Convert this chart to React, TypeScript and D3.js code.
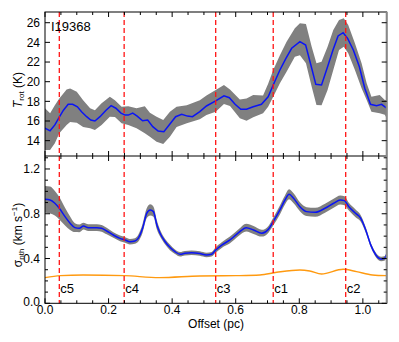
import React from 'react';
import * as d3 from 'd3';

// top panel: rotational temperature along the filament
const tOffset = [0, 0.016, 0.031, 0.045, 0.058, 0.073, 0.087, 0.102, 0.115, 0.131, 0.144, 0.157, 0.173, 0.192, 0.208, 0.223, 0.239, 0.252, 0.262, 0.276, 0.29, 0.307, 0.323, 0.339, 0.356, 0.374, 0.393, 0.411, 0.43, 0.448, 0.464, 0.487, 0.508, 0.537, 0.563, 0.58, 0.598, 0.616, 0.634, 0.655, 0.681, 0.702, 0.718, 0.739, 0.758, 0.776, 0.802, 0.82, 0.835, 0.852, 0.87, 0.889, 0.906, 0.922, 0.938, 0.952, 0.97, 0.989, 1.006, 1.024, 1.043, 1.059, 1.075];
const tRot = [15.26, 15.0, 15.6, 16.4, 17.1, 17.7, 17.7, 17.45, 16.95, 16.44, 16.1, 16.0, 16.44, 17.1, 17.56, 17.3, 16.8, 16.6, 16.6, 16.8, 16.5, 16.03, 16.1, 15.42, 14.98, 14.9, 15.7, 16.44, 16.68, 16.5, 16.44, 16.95, 17.53, 18.04, 18.57, 18.37, 17.7, 17.19, 17.19, 17.45, 17.7, 18.47, 19.66, 21.19, 22.38, 23.4, 24.07, 23.73, 21.87, 19.73, 19.66, 21.52, 23.22, 24.65, 24.98, 24.41, 23.22, 21.52, 19.33, 17.7, 17.56, 17.7, 17.3];

const tBandOffset = [0, 0.016, 0.031, 0.045, 0.068, 0.079, 0.1, 0.12, 0.142, 0.157, 0.178, 0.204, 0.22, 0.241, 0.262, 0.288, 0.314, 0.33, 0.351, 0.372, 0.393, 0.414, 0.446, 0.487, 0.508, 0.537, 0.563, 0.582, 0.613, 0.634, 0.655, 0.686, 0.702, 0.718, 0.739, 0.76, 0.786, 0.802, 0.821, 0.839, 0.854, 0.87, 0.889, 0.907, 0.925, 0.94, 0.954, 0.975, 0.996, 1.012, 1.027, 1.053, 1.069, 1.075];
const tUpper = [17.3, 16.8, 17.6, 18.3, 19.2, 19.3, 18.98, 18.1, 17.3, 17.1, 17.8, 18.47, 18.1, 17.45, 17.5, 17.3, 17.5, 16.84, 16.44, 16.1, 16.95, 17.45, 17.6, 18.1, 18.6, 19.15, 19.66, 19.2, 18.2, 18.3, 18.64, 18.6, 19.8, 21.2, 22.7, 24.07, 25.43, 25.94, 25.87, 23.56, 21.87, 22.03, 23.56, 25.26, 26.27, 26.45, 25.77, 23.9, 21.87, 19.83, 18.47, 18.64, 18.14, 18.14];
const tLower = [13.05, 13.05, 13.73, 14.75, 15.6, 15.9, 15.83, 15.4, 15.26, 15.08, 15.6, 16.44, 16.4, 15.77, 15.6, 15.26, 14.75, 14.4, 13.9, 13.66, 14.4, 15.4, 15.77, 16.17, 16.6, 16.95, 17.73, 17.53, 16.27, 16.03, 16.38, 16.8, 17.45, 18.47, 19.83, 21.0, 22.54, 22.7, 21.87, 19.49, 17.63, 17.6, 19.15, 21.19, 23.22, 23.56, 22.9, 21.19, 19.33, 18.14, 16.95, 16.8, 16.64, 16.27];

// bottom panel: non-thermal velocity dispersion
const sOffset = [0, 0.016, 0.031, 0.045, 0.063, 0.079, 0.094, 0.108, 0.121, 0.136, 0.163, 0.178, 0.194, 0.215, 0.236, 0.252, 0.267, 0.283, 0.293, 0.307, 0.32, 0.331, 0.341, 0.352, 0.362, 0.378, 0.393, 0.409, 0.425, 0.44, 0.461, 0.487, 0.508, 0.524, 0.537, 0.556, 0.582, 0.609, 0.633, 0.656, 0.682, 0.703, 0.718, 0.739, 0.755, 0.768, 0.782, 0.802, 0.823, 0.85, 0.881, 0.908, 0.929, 0.942, 0.956, 0.977, 0.993, 1.009, 1.025, 1.041, 1.058, 1.069, 1.075];
const sigmaNth = [0.929, 0.923, 0.894, 0.849, 0.774, 0.715, 0.676, 0.67, 0.69, 0.676, 0.676, 0.67, 0.646, 0.61, 0.58, 0.566, 0.55, 0.557, 0.58, 0.67, 0.804, 0.834, 0.819, 0.7, 0.626, 0.55, 0.5, 0.461, 0.438, 0.447, 0.452, 0.445, 0.432, 0.438, 0.476, 0.52, 0.566, 0.631, 0.676, 0.655, 0.626, 0.661, 0.729, 0.834, 0.923, 0.974, 0.938, 0.863, 0.819, 0.813, 0.849, 0.894, 0.923, 0.917, 0.863, 0.804, 0.76, 0.655, 0.52, 0.432, 0.396, 0.402, 0.438];
const sigmaErr = [0.12, 0.12, 0.11, 0.1, 0.08, 0.06, 0.04, 0.035, 0.03, 0.03, 0.03, 0.03, 0.03, 0.025, 0.025, 0.025, 0.025, 0.025, 0.03, 0.04, 0.045, 0.05, 0.045, 0.04, 0.03, 0.025, 0.025, 0.02, 0.02, 0.02, 0.02, 0.02, 0.02, 0.02, 0.025, 0.025, 0.03, 0.03, 0.035, 0.035, 0.03, 0.03, 0.035, 0.04, 0.04, 0.045, 0.045, 0.04, 0.04, 0.04, 0.04, 0.04, 0.04, 0.04, 0.035, 0.035, 0.03, 0.025, 0.02, 0.02, 0.02, 0.02, 0.02];

// thermal (sound speed) line
const csOffset = [0, 0.048, 0.12, 0.25, 0.36, 0.487, 0.6, 0.676, 0.729, 0.802, 0.833, 0.87, 0.938, 0.98, 1.03, 1.075];
const csValue = [0.229, 0.247, 0.253, 0.247, 0.229, 0.244, 0.247, 0.253, 0.277, 0.298, 0.289, 0.262, 0.304, 0.283, 0.253, 0.247];

const coreNames = ['c5', 'c4', 'c3', 'c1', 'c2'];
const coreOffset = [0.045, 0.249, 0.537, 0.718, 0.946];

const xTicks = [0, 0.2, 0.4, 0.6, 0.8, 1.0];
const tTicks = [14, 16, 18, 20, 22, 24, 26];
const sTicks = [0, 0.4, 0.8, 1.2];

const font = '"Liberation Sans", Arial, Helvetica, sans-serif';

export default function App() {
  const left = 45;
  const right = 386.7;
  const top = 12;
  const mid = 156;
  const bottom = 303.3;

  const x = d3.scaleLinear().domain([0, 1.075]).range([left, right]);
  const yT = d3.scaleLinear().domain([12.44, 27.09]).range([mid, top]);
  const yS = d3.scaleLinear().domain([0, 1.316]).range([bottom, mid]);

  const tBand = d3
    .area<number>()
    .x((i) => x(tBandOffset[i]))
    .y0((i) => yT(tLower[i]))
    .y1((i) => yT(tUpper[i]));
  const tLine = d3
    .line<number>()
    .x((i) => x(tOffset[i]))
    .y((i) => yT(tRot[i]));

  const sBand = d3
    .area<number>()
    .x((i) => x(sOffset[i]))
    .y0((i) => yS(sigmaNth[i] - sigmaErr[i]))
    .y1((i) => yS(sigmaNth[i] + sigmaErr[i]))
    .curve(d3.curveMonotoneX);
  const sLine = d3
    .line<number>()
    .x((i) => x(sOffset[i]))
    .y((i) => yS(sigmaNth[i]))
    .curve(d3.curveMonotoneX);
  const csLine = d3
    .line<number>()
    .x((i) => x(csOffset[i]))
    .y((i) => yS(csValue[i]))
    .curve(d3.curveMonotoneX);

  const xMinor = d3.range(0, 1.0751, 0.05);
  const sMinor = d3.range(0, 1.31, 0.1);

  return (
    <svg width={399} height={342} style={{ display: 'block', position: 'absolute', left: 0, top: 0 }} fontFamily={font}>
      <defs>
        <clipPath id="clipT">
          <rect x={left} y={top} width={right - left} height={mid - top} />
        </clipPath>
        <clipPath id="clipS">
          <rect x={left} y={mid} width={right - left} height={bottom - mid} />
        </clipPath>
      </defs>

      <g clipPath="url(#clipT)">
        <path d={tBand(d3.range(tBandOffset.length)) || ''} fill="#808080" />
        <path d={tLine(d3.range(tOffset.length)) || ''} fill="none" stroke="#0a14f5" strokeWidth={1.5} />
      </g>
      <g clipPath="url(#clipS)">
        <path d={sBand(d3.range(sOffset.length)) || ''} fill="#808080" />
        <path d={sLine(d3.range(sOffset.length)) || ''} fill="none" stroke="#0a14f5" strokeWidth={1.5} />
        <path d={csLine(d3.range(csOffset.length)) || ''} fill="none" stroke="#ff9a10" strokeWidth={1.4} />
      </g>

      {/* core positions */}
      {coreOffset.map((c, i) => (
        <g key={coreNames[i]}>
          <line x1={x(c)} x2={x(c)} y1={top} y2={bottom} stroke="#ff1414" strokeWidth={1.3} strokeDasharray="5,3" />
          <text x={x(c) + 1} y={293} fontSize={13} fill="#000">
            {coreNames[i]}
          </text>
        </g>
      ))}

      {/* frames */}
      <rect x={left} y={top} width={right - left} height={bottom - top} fill="none" stroke="#000" strokeWidth={1} />
      <line x1={left} x2={right} y1={mid} y2={mid} stroke="#000" strokeWidth={1} />
      <line x1={right} x2={right} y1={top} y2={bottom} stroke="#888" strokeWidth={2} />

      {/* x ticks on each horizontal edge */}
      {[top, mid, bottom].map((yy, k) =>
        xMinor.map((v) => {
          const major = xTicks.some((t) => Math.abs(t - v) < 1e-6);
          const len = major ? 5 : 3;
          return (
            <g key={`x${k}-${v}`}>
              {yy !== top && <line x1={x(v)} x2={x(v)} y1={yy} y2={yy - len} stroke="#000" />}
              {yy !== bottom && <line x1={x(v)} x2={x(v)} y1={yy} y2={yy + len} stroke="#000" />}
            </g>
          );
        })
      )}
      {xTicks.map((v) => (
        <text key={`xl${v}`} x={x(v)} y={314} fontSize={12} textAnchor="middle">
          {v.toFixed(1)}
        </text>
      ))}
      <text x={216} y={328} fontSize={12} textAnchor="middle">
        Offset (pc)
      </text>

      {/* top panel y axis */}
      {tTicks.map((v) => (
        <g key={`ty${v}`}>
          <line x1={left} x2={left + 5} y1={yT(v)} y2={yT(v)} stroke="#000" />
          <line x1={right} x2={right - 5} y1={yT(v)} y2={yT(v)} stroke="#000" />
          <text x={40} y={yT(v) + 4.3} fontSize={12} textAnchor="end">
            {v}
          </text>
        </g>
      ))}
      <text transform="translate(22,90) rotate(-90)" fontSize={12} textAnchor="middle">
        <tspan fontStyle="italic">T</tspan>
        <tspan fontSize={8} dy={2}>rot</tspan>
        <tspan dy={-2}> (K)</tspan>
      </text>

      {/* bottom panel y axis */}
      {sMinor.map((v) => {
        const major = sTicks.some((t) => Math.abs(t - v) < 1e-6);
        const len = major ? 5 : 3;
        return (
          <g key={`sy${v}`}>
            <line x1={left} x2={left + len} y1={yS(v)} y2={yS(v)} stroke="#000" />
            <line x1={right} x2={right - len} y1={yS(v)} y2={yS(v)} stroke="#000" />
          </g>
        );
      })}
      {sTicks.map((v) => (
        <text key={`sl${v}`} x={40} y={yS(v) + (v === 0 ? 2.5 : 4.3)} fontSize={12} textAnchor="end">
          {v.toFixed(1)}
        </text>
      ))}
      <text transform="translate(22,235) rotate(-90)" fontSize={12} textAnchor="middle">
        <tspan>σ</tspan>
        <tspan fontSize={8} dy={2}>nth</tspan>
        <tspan dy={-2}> (km s</tspan>
        <tspan fontSize={8} dy={-5}>−1</tspan>
        <tspan dy={5}>)</tspan>
      </text>

      <text x={51} y={31} fontSize={13}>
        I19368
      </text>
    </svg>
  );
}
